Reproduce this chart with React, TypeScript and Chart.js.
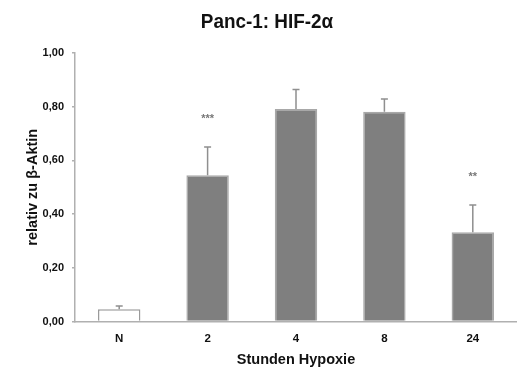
import React, { useEffect, useRef } from "react";
import { Chart, registerables } from "chart.js";

Chart.register(...registerables);

const categories = ["N", "2", "4", "8", "24"];
const means = [0.046, 0.545, 0.791, 0.781, 0.332];
const errors = [0.012, 0.105, 0.073, 0.048, 0.102];
const stars = ["", "***", "", "", "**"];
const yTicks = [0, 0.2, 0.4, 0.6, 0.8, 1.0];
const barFill = ["#ffffff", "#7f7f7f", "#7f7f7f", "#7f7f7f", "#7f7f7f"];
const barBorder = ["#9a9a9a", "#a8a8a8", "#a8a8a8", "#a8a8a8", "#a8a8a8"];

const FONT = "'Liberation Sans', Arial, sans-serif";

const errorBarPlugin = {
  id: "errorBars",
  afterDatasetsDraw(chart: any) {
    const { ctx, scales } = chart;
    const meta = chart.getDatasetMeta(0);
    ctx.save();
    meta.data.forEach((bar: any, i: number) => {
      const x = bar.x;
      const yTop = scales.y.getPixelForValue(means[i] + errors[i]);
      const yBar = scales.y.getPixelForValue(means[i]);
      ctx.strokeStyle = "#8f8f8f";
      ctx.lineWidth = 1.5;
      ctx.beginPath();
      ctx.moveTo(x, yBar);
      ctx.lineTo(x, yTop);
      ctx.moveTo(x - 3.5, yTop);
      ctx.lineTo(x + 3.5, yTop);
      ctx.stroke();
      if (stars[i]) {
        ctx.fillStyle = "#777777";
        ctx.font = `bold 11px ${FONT}`;
        ctx.textAlign = "center";
        ctx.textBaseline = "middle";
        ctx.fillText(stars[i], x, yTop - 28);
      }
    });
    ctx.restore();
  },
};

const titlePlugin = {
  id: "customTitle",
  afterDraw(chart: any) {
    const { ctx } = chart;
    ctx.save();
    ctx.fillStyle = "#111111";
    ctx.font = `bold 21px ${FONT}`;
    ctx.textAlign = "center";
    ctx.textBaseline = "middle";
    ctx.translate(267, 22);
    ctx.scale(0.9, 1);
    ctx.fillText("Panc-1: HIF-2α", 0, 0);
    ctx.restore();
  },
};

export default function App() {
  const ref = useRef<HTMLCanvasElement | null>(null);
  useEffect(() => {
    document.body.style.margin = "0";
    const chart = new Chart(ref.current as HTMLCanvasElement, {
      type: "bar",
      data: {
        labels: categories,
        datasets: [
          {
            data: means,
            backgroundColor: barFill,
            borderColor: barBorder,
            borderWidth: 1.5,
            categoryPercentage: 1,
            barPercentage: 0.48,
          },
        ],
      },
      options: {
        animation: false,
        responsive: false,
        maintainAspectRatio: false,
        layout: { padding: { top: 53, right: 0, left: 0, bottom: 0 } },
        plugins: {
          legend: { display: false },
          title: { display: false },
          tooltip: { enabled: false },
        },
        scales: {
          x: {
            afterFit(scale: any) {
              scale.height = 50.5;
            },
            grid: { display: true, drawOnChartArea: false, drawTicks: false },
            border: { display: true, color: "#b0b0b0", width: 1.5 },
            ticks: {
              color: "#111111",
              font: { family: FONT, size: 11.5, weight: "bold" },
              padding: 10,
            },
            title: {
              display: true,
              text: "Stunden Hypoxie",
              color: "#111111",
              font: { family: FONT, size: 14.5, weight: "bold" },
              padding: { top: 0, bottom: 3 },
            },
          },
          y: {
            min: 0,
            max: 1,
            afterFit(scale: any) {
              scale.width = 75;
            },
            afterBuildTicks(scale: any) {
              scale.ticks = yTicks.map((v) => ({ value: v }));
            },
            grid: {
              display: true,
              drawOnChartArea: false,
              drawTicks: true,
              tickLength: 3,
              color: "#b0b0b0",
              lineWidth: 1.5,
            },
            border: { display: true, color: "#b0b0b0", width: 1.5 },
            ticks: {
              color: "#111111",
              font: { family: FONT, size: 11, weight: "bold" },
              padding: 8,
              callback: (v: any) => Number(v).toFixed(2).replace(".", ","),
            },
            title: {
              display: true,
              text: "relativ zu β-Aktin",
              color: "#111111",
              font: { family: FONT, size: 14.5, weight: "bold" },
              padding: { top: 24, bottom: 0 },
            },
          },
        },
      },
      plugins: [errorBarPlugin, titlePlugin],
    });
    return () => chart.destroy();
  }, []);
  return (
    <div style={{ width: 517, height: 372, background: "#ffffff" }}>
      <canvas ref={ref} width={517} height={372} style={{ display: "block" }} />
    </div>
  );
}
